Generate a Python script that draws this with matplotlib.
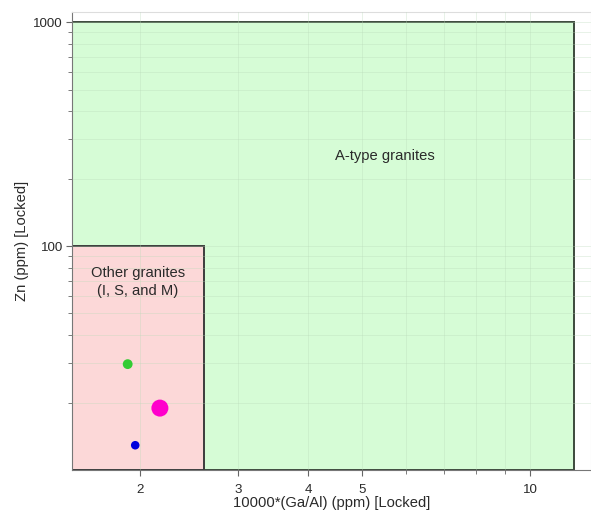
import matplotlib
matplotlib.use("Agg")
import matplotlib.pyplot as plt
from matplotlib.patches import Rectangle
from matplotlib.ticker import FixedLocator, NullFormatter

# Discrimination fields (Ga/Al x 10000 vs Zn)
a_type_field = {"x": (1.51, 12.0), "y": (10, 1000)}
other_field = {"x": (1.51, 2.6), "y": (10, 100)}

# Samples
sample_ga_al = [1.90, 2.17, 1.96]
sample_zn = [29.7, 18.9, 12.9]
sample_colors = ["#33cc33", "#ff00cc", "#0000dd"]
sample_sizes = [50, 150, 38]

x_ticks = [2, 3, 4, 5, 10]
x_minor = [6, 7, 8, 9]
y_ticks = [100, 1000]
y_minor = [20, 30, 40, 50, 60, 70, 80, 90, 200, 300, 400, 500, 600, 700, 800, 900]

FONT = "Liberation Sans"

fig = plt.figure(figsize=(5.91, 5.12), dpi=100)
ax = fig.add_axes([72 / 591, 1 - 470 / 512, 1 - 72 / 591, (470 - 12) / 512])
ax.set_xscale("log")
ax.set_yscale("log")
ax.set_xlim(1.51, 12.85)
ax.set_ylim(10, 1110)

ax.add_patch(Rectangle((a_type_field["x"][0], a_type_field["y"][0]),
                       a_type_field["x"][1] - a_type_field["x"][0],
                       a_type_field["y"][1] - a_type_field["y"][0],
                       facecolor="#d6fcd6", edgecolor="#3c4a3c", lw=1.4, zorder=1))
ax.add_patch(Rectangle((other_field["x"][0], other_field["y"][0]),
                       other_field["x"][1] - other_field["x"][0],
                       other_field["y"][1] - other_field["y"][0],
                       facecolor="#fcd8d8", edgecolor="#3c3c3c", lw=1.4, zorder=2))

ax.text(5.5, 253, "A-type granites", ha="center", va="center",
        fontsize=10.6, color="#2a2a2a", zorder=4, family=FONT)
ax.text(1.98, 69, "Other granites\n(I, S, and M)", ha="center", va="center",
        fontsize=10.6, color="#2a2a2a", zorder=4, linespacing=1.4, family=FONT)

ax.scatter(sample_ga_al, sample_zn, s=sample_sizes, c=sample_colors,
           edgecolors="none", zorder=5)

ax.xaxis.set_major_locator(FixedLocator(x_ticks))
ax.xaxis.set_minor_locator(FixedLocator(x_minor))
ax.set_xticklabels([str(v) for v in x_ticks])
ax.xaxis.set_minor_formatter(NullFormatter())
ax.yaxis.set_major_locator(FixedLocator(y_ticks))
ax.yaxis.set_minor_locator(FixedLocator(y_minor))
ax.set_yticklabels([str(v) for v in y_ticks])
ax.yaxis.set_minor_formatter(NullFormatter())

ax.grid(True, which="both", color="#b8d8b8", lw=0.5, alpha=0.45, zorder=3)
ax.set_axisbelow(False)

ax.tick_params(which="both", direction="out", colors="#666666", labelcolor="#2a2a2a",
               labelsize=9.6)
ax.tick_params(which="major", length=4)
ax.tick_params(which="minor", length=3)
ax.tick_params(axis="x", which="major", pad=6)
ax.tick_params(axis="y", which="major", pad=2.5)
for lab in ax.get_xticklabels() + ax.get_yticklabels():
    lab.set_family(FONT)

for side in ["left", "bottom"]:
    ax.spines[side].set_color("#777777")
for side in ["top", "right"]:
    ax.spines[side].set_color("#dddddd")

ax.set_xlabel("10000*(Ga/Al) (ppm) [Locked]", fontsize=10.6, color="#2a2a2a",
              family=FONT, va="center")
ax.set_ylabel("Zn (ppm) [Locked]", fontsize=10.6, color="#2a2a2a",
              family=FONT, va="center")
ax.xaxis.set_label_coords(0.5, (470 - 503) / 458)
ax.yaxis.set_label_coords((22 - 72) / 519, 0.5)

fig.savefig("out.png", dpi=100)
